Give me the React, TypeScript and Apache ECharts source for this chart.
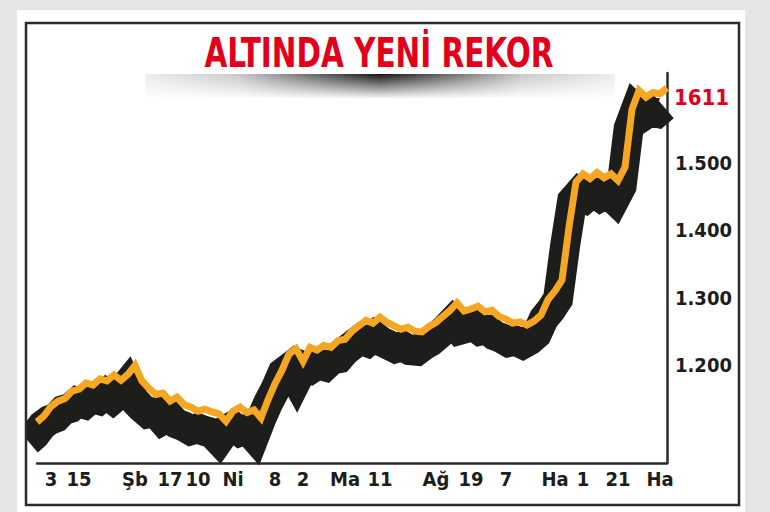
import { useRef, useEffect } from 'react';
import * as echarts from 'echarts';

// gold price (orange line); the black band is its drop shadow
const price = [
  1115, 1124, 1138, 1146, 1150, 1161, 1164, 1173, 1170, 1179,
  1176, 1185, 1177, 1186, 1199, 1176, 1165, 1156, 1158, 1146,
  1152, 1141, 1137, 1131, 1134, 1130, 1127, 1116, 1131, 1137,
  1129, 1133, 1121, 1148, 1172, 1192, 1216, 1224, 1205, 1226,
  1222, 1229, 1226, 1236, 1238, 1250, 1258, 1266, 1262, 1271,
  1263, 1258, 1253, 1256, 1250, 1249, 1257, 1263, 1272, 1281,
  1292, 1280, 1283, 1287, 1279, 1281, 1272, 1268, 1262, 1264,
  1259, 1265, 1274, 1297, 1310, 1326, 1405, 1472, 1484, 1477,
  1486, 1478, 1484, 1474, 1494, 1580, 1608, 1598, 1605, 1603,
  1612,
];

const tickIdx = [2, 6, 14, 19, 23, 28, 34, 38, 44, 49, 57, 62, 67, 74, 78, 83, 89];
const tickText = ['3', '15', 'Şb', '17', '10', 'Ni', '8', '2', 'Ma', '11', 'Ağ', '19', '7', 'Ha', '1', '21', 'Ha'];
const yTicks = [1200, 1300, 1400, 1500];
const recordLabel = '1611';
const title = 'ALTINDA YENİ REKOR';

const FONT = "'DejaVu Sans Condensed', 'Liberation Sans Narrow', 'DejaVu Sans', sans-serif";
const ORANGE = '#f5a622';
const INK = '#1d1d1b';
const RED = '#e2001a';

const Y_MIN = 1054;
const Y_MAX = 1634;

const fmtThousands = (v: number) =>
  `${Math.floor(v / 1000)}.${String(v % 1000).padStart(3, '0')}`;

export default function App() {
  const ref = useRef<HTMLDivElement>(null);

  useEffect(() => {
    if (!ref.current) return;
    const chart = echarts.init(ref.current, undefined, { renderer: 'svg', width: 770, height: 512 });
    const idx = price.map((_, i) => String(i));

    chart.setOption({
      animation: false,
      backgroundColor: '#e4e5e7',
      grid: [
        { left: 37, right: 103, top: 73, bottom: 49 },
        { left: 28, right: 106, top: 92, bottom: 30 },
      ],
      xAxis: [
        {
          type: 'category', gridIndex: 0, data: idx, boundaryGap: false,
          axisLine: { lineStyle: { color: '#2b2b2b', width: 2.5 } },
          axisTick: { show: false },
          axisLabel: {
            interval: 0, margin: 6, color: INK, fontFamily: FONT, fontWeight: 'bold', fontSize: 20,
            formatter: (_: string, i: number) => {
              const k = tickIdx.indexOf(i);
              return k >= 0 ? tickText[k] : '';
            },
          },
        },
        { type: 'category', gridIndex: 1, data: idx, boundaryGap: false, show: false },
      ],
      yAxis: [
        {
          type: 'value', gridIndex: 0, position: 'right', min: Y_MIN, max: Y_MAX,
          splitLine: { show: false },
          axisTick: { show: false },
          axisLine: { show: true, lineStyle: { color: '#2b2b2b', width: 2.5 } },
          axisLabel: {
            customValues: yTicks, margin: 8, color: INK, fontFamily: FONT,
            fontWeight: 'bold', fontSize: 20, formatter: (v: number) => fmtThousands(v),
          },
        },
        { type: 'value', gridIndex: 1, min: Y_MIN, max: Y_MAX, show: false },
      ],
      graphic: [
        { type: 'rect', z: -10, shape: { x: 17, y: 10, width: 728, height: 502 }, style: { fill: '#ffffff' } },
        // white strip hiding the shadow's overhang left of the frame
        { type: 'rect', z: 99, shape: { x: 17, y: 380, width: 9, height: 100 }, style: { fill: '#ffffff' } },
        {
          type: 'rect', z: 100, shape: { x: 26, y: 23, width: 713, height: 482 },
          style: { fill: 'none', stroke: '#2b2b2b', lineWidth: 2.5 },
        },
        {
          type: 'rect', z: -8, shape: { x: 145, y: 74, width: 470, height: 24 },
          style: {
            fill: new echarts.graphic.LinearGradient(0, 0, 1, 0, [
              { offset: 0, color: '#ececec' },
              { offset: 0.2, color: '#c8c8c8' },
              { offset: 0.5, color: '#141414' },
              { offset: 0.8, color: '#c8c8c8' },
              { offset: 1, color: '#ececec' },
            ]),
          },
        },
        {
          type: 'rect', z: -7, shape: { x: 140, y: 74, width: 480, height: 25 },
          style: {
            fill: new echarts.graphic.LinearGradient(0, 0, 0, 1, [
              { offset: 0, color: 'rgba(255,255,255,0)' },
              { offset: 1, color: 'rgba(255,255,255,1)' },
            ]),
          },
        },
        {
          type: 'text', z: 10, x: 379, y: 53, scaleX: 0.8,
          style: {
            text: title, fill: RED, font: `bold 41px ${FONT}`,
            align: 'center', verticalAlign: 'middle',
          },
        },
      ],
      series: [
        {
          type: 'line', xAxisIndex: 1, yAxisIndex: 1, data: price, z: 2,
          symbol: 'none', clip: true,
          lineStyle: { color: INK, width: 30, join: 'miter' },
        },
        {
          type: 'line', xAxisIndex: 0, yAxisIndex: 0, data: price, z: 3,
          symbol: 'none', clip: false,
          lineStyle: { color: ORANGE, width: 7, join: 'miter' },
          endLabel: {
            show: true, formatter: recordLabel, color: RED, fontFamily: FONT,
            fontWeight: 'bold', fontSize: 22, distance: 7, offset: [0, 10],
          },
        },
      ],
    });

    return () => chart.dispose();
  }, []);

  return (
    <div style={{ position: 'fixed', left: 0, top: 0, width: 770, height: 512, background: '#e4e5e7' }}>
      <div ref={ref} style={{ width: 770, height: 512 }} />
    </div>
  );
}
